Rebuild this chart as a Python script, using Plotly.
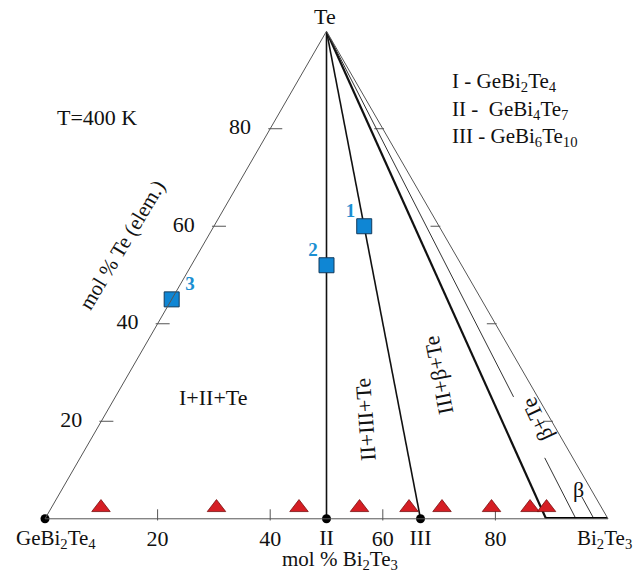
import plotly.graph_objects as go

# ---------------- data ----------------
# compositions in mol %: Te (top), GeBi2Te4 (bottom-left), Bi2Te3 (bottom-right)
compound_labels = ["II", "III"]
compound_bi2te3 = [50.0, 66.7]           # GeBi4Te7, GeBi6Te10 on the pseudo-binary
beta_limit_bi2te3 = 89.0                 # Te-rich tie line bounding the beta field
beta_inner_bi2te3 = 94.3                 # inner beta tie line
beta_short_bi2te3 = 97.5                 # short tie line inside beta field
sample_bi2te3 = [9, 30, 45, 56, 65, 71, 80, 87, 90]   # red triangles
alloy_ids = ["1", "2", "3"]
alloy_te = [60, 52, 45]
alloy_bi2te3 = [26.7, 24.0, 0.0]
te_ticks = [20, 40, 60, 80]
bi2te3_ticks = [20, 40, 60, 80]
legend_lines = ["I - GeBi<sub>2</sub>Te<sub>4</sub>",
                "II -  GeBi<sub>4</sub>Te<sub>7</sub>",
                "III - GeBi<sub>6</sub>Te<sub>10</sub>"]

# ---------------- helpers ----------------
FONT = "Liberation Serif, Times New Roman, serif"
W, H = 642, 572
ML, MR, MT, MB = 45, 34, 31, 53
PW, PH = W - ML - MR, H - MT - MB
NBSP = "\u00a0"
EDGE = "#555"


def tie(c0, te_from=100.0, te_to=0.0):
    """points on the tie line from pure Te to base composition c0 (mol% Bi2Te3)"""
    a = [te_from, te_to]
    c = [c0 * (1 - t / 100) for t in a]
    b = [100 - ai - ci for ai, ci in zip(a, c)]
    return a, b, c


def px(x, y):
    return (x - ML) / PW, (H - MB - y) / PH


fig = go.Figure()

def add_line(a, b, c, width, color="#111"):
    fig.add_trace(go.Scatterternary(a=a, b=b, c=c, mode="lines", cliponaxis=False,
                                    line=dict(color=color, width=width),
                                    hoverinfo="skip", showlegend=False))

def add_ticks(a, b, c, symbol, size):
    fig.add_trace(go.Scatterternary(a=a, b=b, c=c, mode="markers", cliponaxis=False,
                                    marker=dict(symbol=symbol, size=size, color=EDGE,
                                                line=dict(color=EDGE, width=1)),
                                    hoverinfo="skip", showlegend=False))

# tick marks: horizontal dashes just inside the side edges, vertical dashes on the base
H_LEFT, H_RIGHT, V_BASE = 0.9, 0.65, 0.8     # half tick length in composition units
add_ticks(te_ticks, [100 - t - H_LEFT for t in te_ticks], [H_LEFT] * 4, "line-ew", 10)
add_ticks(te_ticks, [H_RIGHT] * 4, [100 - t - H_RIGHT for t in te_ticks], "line-ew", 7)
add_ticks([V_BASE] * 4, [100 - t - V_BASE / 2 for t in bi2te3_ticks],
          [t - V_BASE / 2 for t in bi2te3_ticks], "line-ns", 8)

# tie lines from Te
for c0 in compound_bi2te3:
    add_line(*tie(c0), width=1.6)
add_line(*tie(beta_limit_bi2te3), width=2.2)
add_line(*tie(beta_inner_bi2te3, 100, 25), width=1.0, color="#333")
add_line(*tie(beta_inner_bi2te3, 12.5, 0), width=1.0, color="#333")
add_line(*tie(beta_short_bi2te3, 4.5, 0), width=1.0, color="#333")
# beta homogeneity range on the base
add_line([0, 0], [100 - beta_limit_bi2te3, 0], [beta_limit_bi2te3, 100], width=3.5, color="#000")

# compound / vertex dots
dot_c = [0.0] + compound_bi2te3
fig.add_trace(go.Scatterternary(a=[0] * len(dot_c), b=[100 - c for c in dot_c], c=dot_c,
                                mode="markers", cliponaxis=False,
                                marker=dict(color="#000", size=9),
                                hoverinfo="skip", showlegend=False))
# II / III labels under base (invisible marker only pads the text away from the line)
fig.add_trace(go.Scatterternary(a=[0] * 2, b=[100 - c for c in compound_bi2te3], c=compound_bi2te3,
                                mode="markers+text", cliponaxis=False,
                                marker=dict(size=14, opacity=0),
                                text=compound_labels, textposition="bottom center",
                                textfont=dict(family=FONT, size=22, color="#111"),
                                hoverinfo="skip", showlegend=False))

# red triangles (samples), drawn resting on the base line
LIFT = 2.3
fig.add_trace(go.Scatterternary(a=[LIFT] * len(sample_bi2te3),
                                b=[(100 - c) * (1 - LIFT / 100) for c in sample_bi2te3],
                                c=[c * (1 - LIFT / 100) for c in sample_bi2te3],
                                mode="markers", cliponaxis=False,
                                marker=dict(symbol="triangle-up", size=16, color="#d51e24",
                                            line=dict(color="#7a1010", width=0.8)),
                                hoverinfo="skip", showlegend=False))

# blue squares
alloy_b = [100 - a - c for a, c in zip(alloy_te, alloy_bi2te3)]
fig.add_trace(go.Scatterternary(a=alloy_te, b=alloy_b, c=alloy_bi2te3,
                                mode="markers", cliponaxis=False,
                                marker=dict(symbol="square", size=15, color="#0f86d4",
                                            line=dict(color="#123a5c", width=1)),
                                hoverinfo="skip", showlegend=False))
# their numbers
label_pos = ["top left", "top left", "top right"]
label_txt = [f"<b>{t}</b>" + NBSP if p.endswith("left") else NBSP * 2 + f"<b>{t}</b>"
             for t, p in zip(alloy_ids, label_pos)]
fig.add_trace(go.Scatterternary(a=alloy_te, b=alloy_b, c=alloy_bi2te3,
                                mode="markers+text", cliponaxis=False,
                                marker=dict(size=5, opacity=0),
                                text=label_txt, textposition=label_pos,
                                textfont=dict(family=FONT, size=19, color="#1b8fd2"),
                                hoverinfo="skip", showlegend=False))

axis_common = dict(showgrid=False, linecolor=EDGE, linewidth=1, ticks="",
                   tickmode="array",
                   tickfont=dict(family=FONT, size=22, color="#111"), title=dict(text=""))

fig.update_layout(
    width=W, height=H,
    margin=dict(l=ML, r=MR, t=MT, b=MB),
    paper_bgcolor="white",
    ternary=dict(
        sum=100,
        bgcolor="white",
        domain=dict(x=[0, 1], y=[0, 1]),
        aaxis=dict(axis_common, tickvals=te_ticks,
                   ticktext=[str(t) + NBSP * 3 for t in te_ticks]),
        baxis=dict(axis_common, tickvals=[100 - t for t in bi2te3_ticks],
                   ticktext=[str(t) for t in bi2te3_ticks]),
        caxis=dict(axis_common, tickvals=[100 - t for t in te_ticks], showticklabels=False),
    ),
)

def note(text, x, y, size=22, angle=0, xanchor="center", color="#111"):
    xp, yp = px(x, y)
    fig.add_annotation(text=text, x=xp, y=yp, xref="paper", yref="paper",
                       showarrow=False, textangle=angle, xanchor=xanchor, yanchor="middle",
                       font=dict(family=FONT, size=size, color=color))

note("Te", 325, 17)
note("GeBi<sub>2</sub>Te<sub>4</sub>", 56, 539, size=21)
note("Bi<sub>2</sub>Te<sub>3</sub>", 604, 539, size=21)
note("mol % Bi<sub>2</sub>Te<sub>3</sub>", 340, 560, size=21)
note("mol % Te (elem.)", 122, 245, size=21, angle=-59)
note("T=400 K", 97, 117)
note("I+II+Te", 213, 397)
note("II+III+Te", 365, 420, angle=-94)
note("III+β+Te", 438, 375, angle=-101)
note("β+Te", 537, 420, angle=-115)
note("β", 578, 489)
for i, t in enumerate(legend_lines):
    note(t, 450, 82 + 27.5 * i, size=21, xanchor="left")

fig.write_html("out.html")
